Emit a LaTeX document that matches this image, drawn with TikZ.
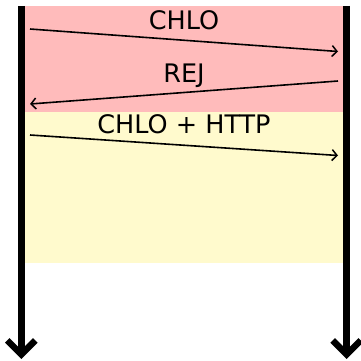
\documentclass[tikz,border=0pt]{standalone}
\usepackage{fontspec}
\setmainfont{DejaVu Sans}
\usetikzlibrary{arrows.meta}
\definecolor{rejpink}{RGB}{255,187,187}
\definecolor{httpyellow}{RGB}{255,250,205}
\begin{document}
\begin{tikzpicture}[x=1pt,y=-1pt,
  lifeline/.style={line width=7.5pt,-{Straight Barb[length=14pt,width=28pt,line width=6.5pt]}},
  msg/.style={line width=1.6pt,-{Straight Barb[length=5pt,width=11pt,line width=1.5pt]}},
  lbl/.style={anchor=base,inner sep=0pt,font=\fontsize{25.5}{30}\selectfont}]
\useasboundingbox (0,0) rectangle (361,361);
\fill[rejpink] (25,6) rectangle (343.3,111.5);
\fill[httpyellow] (25,111.5) rectangle (343.3,263);
\coordinate (Ltop) at (21.3,6);
\coordinate (Lbot) at (21.3,359);
\coordinate (Rtop) at (346.7,6);
\coordinate (Rbot) at (346.7,359);
\draw[lifeline] (Ltop) -- (Lbot);
\draw[lifeline] (Rtop) -- (Rbot);
\coordinate (a1) at (30,29);
\coordinate (b1) at (338,51.5);
\coordinate (a2) at (338,81);
\coordinate (b2) at (30,104);
\coordinate (a3) at (30,135);
\coordinate (b3) at (338,155.5);
\draw[msg] (a1) -- (b1);
\draw[msg] (a2) -- (b2);
\draw[msg] (a3) -- (b3);
\node[lbl] (t1) at (184,30) {CHLO};
\node[lbl] (t2) at (184,82.5) {REJ};
\node[lbl] (t3) at (184,133) {CHLO + HTTP};
\end{tikzpicture}
\end{document}
